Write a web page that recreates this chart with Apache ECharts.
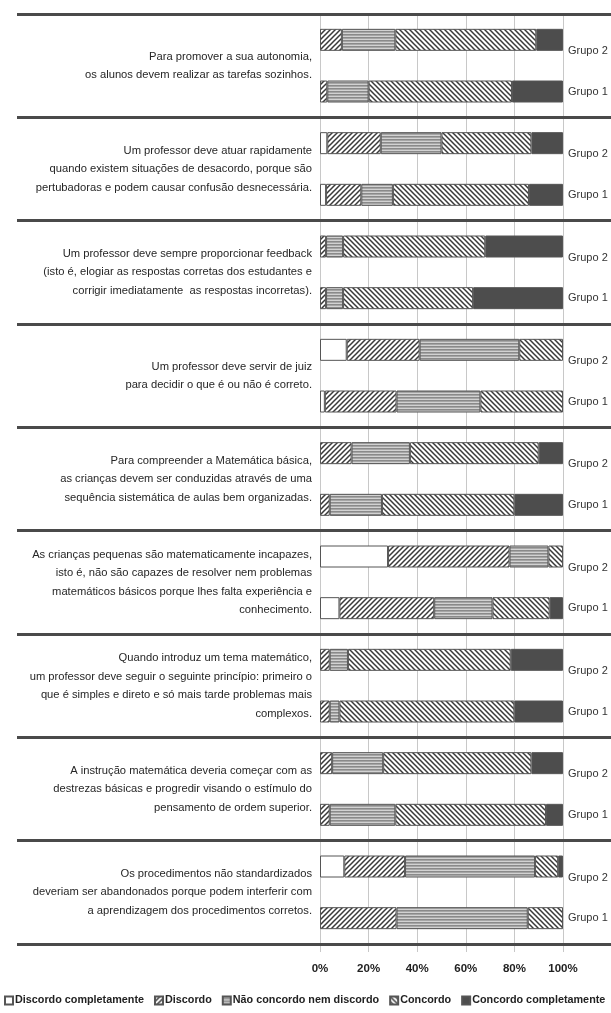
<!DOCTYPE html>
<html>
<head>
<meta charset="utf-8">
<script src="https://cdn.jsdelivr.net/npm/echarts@6/dist/echarts.min.js"></script>
<style>
html,body{margin:0;padding:0;background:#fff;}
#chart{width:611px;height:1013px;}
</style>
</head>
<body>
<div id="chart"></div>
<script>
// ---------- DATA ----------
const statements = [
  "Para promover a sua autonomia,\nos alunos devem realizar as tarefas sozinhos.",
  "Um professor deve atuar rapidamente\nquando existem situações de desacordo, porque são\npertubadoras e podem causar confusão desnecessária.",
  "Um professor deve sempre proporcionar feedback\n(isto é, elogiar as respostas corretas dos estudantes e\ncorrigir imediatamente  as respostas incorretas).",
  "Um professor deve servir de juiz\npara decidir o que é ou não é correto.",
  "Para compreender a Matemática básica,\nas crianças devem ser conduzidas através de uma\nsequência sistemática de aulas bem organizadas.",
  "As crianças pequenas são matematicamente incapazes,\nisto é, não são capazes de resolver nem problemas\nmatemáticos básicos porque lhes falta experiência e\nconhecimento.",
  "Quando introduz um tema matemático,\num professor deve seguir o seguinte princípio: primeiro o\nque é simples e direto e só mais tarde problemas mais\ncomplexos.",
  "A instrução matemática deveria começar com as\ndestrezas básicas e progredir visando o estímulo do\npensamento de ordem superior.",
  "Os procedimentos não standardizados\ndeveriam ser abandonados porque podem interferir com\na aprendizagem dos procedimentos corretos."
];
const groups = ["Grupo 2", "Grupo 1"];
const seriesNames = ["Discordo completamente", "Discordo", "Não concordo nem discordo", "Concordo", "Concordo completamente"];
// values per statement: [Grupo 2, Grupo 1]
const discordoCompletamente = [0,0, 3,2.5, 0,0, 11,2, 0,0, 28,8, 0,0, 0,0, 10,0];
const discordo              = [9,3, 22,14.5, 2.5,2.5, 30,29.5, 13,4, 50,39, 4,4, 5,4, 25,31.5];
const naoConcordo           = [22,17, 25,13, 7,7, 41,34.5, 24,21.5, 16,24, 7.5,4, 21,27, 53.5,54];
const concordo              = [58,59, 37,56, 58.5,53.5, 18,34, 53,54.5, 6,23.5, 67,72, 61,62, 9.5,14.5];
const concordoCompletamente = [11,21, 13,14, 32,37, 0,0, 10,20, 0,5.5, 21.5,20, 13,7, 2,0];

// ---------- PATTERNS ----------
function pattern(kind) {
  const c = document.createElement('canvas');
  const s = kind === 'h' ? 3 : 5;
  c.width = s; c.height = s;
  const g = c.getContext('2d');
  if (kind === 'h') {
    g.fillStyle = '#a6a6a6'; g.fillRect(0, 0, s, s);
    g.fillStyle = '#d2d2d2'; g.fillRect(0, 0, s, 1);
    g.fillStyle = '#8a8a8a'; g.fillRect(0, 1, s, 1);
    return c;
  }
  g.fillStyle = '#ffffff'; g.fillRect(0, 0, s, s);
  g.strokeStyle = '#3a3a3a'; g.lineWidth = 1.5;
  g.beginPath();
  if (kind === 'f') {
    for (let k = -1; k <= 1; k++) { g.moveTo(-1 + k * s, s + 1); g.lineTo(s + 1 + k * s, -1); }
  } else {
    for (let k = -1; k <= 1; k++) { g.moveTo(-1 + k * s, -1); g.lineTo(s + 1 + k * s, s + 1); }
  }
  g.stroke();
  return c;
}
const fills = [
  '#ffffff',
  { image: pattern('f'), repeat: 'repeat' },
  { image: pattern('h'), repeat: 'repeat' },
  { image: pattern('b'), repeat: 'repeat' },
  '#4d4d4d'
];
const allValues = [discordoCompletamente, discordo, naoConcordo, concordo, concordoCompletamente];

const barCats = [];
statements.forEach((s, i) => groups.forEach(g => barCats.push(g + '#' + i)));

const FONT = "'Liberation Sans Narrow', 'Liberation Sans', sans-serif";

const chart = echarts.init(document.getElementById('chart'), null, { renderer: 'canvas' });
chart.setOption({
  animation: false,
  backgroundColor: '#ffffff',
  grid: [
    { left: 320, right: 48, top: 14, bottom: 69, outerBoundsMode: 'none', containLabel: false },
    { left: 17, right: 0, top: 14, bottom: 69, outerBoundsMode: 'none', containLabel: false }
  ],
  legend: {
    data: seriesNames,
    bottom: 7,
    left: 4,
    width: 607,
    padding: 0,
    itemWidth: 8,
    itemHeight: 8,
    itemGap: 10,
    icon: 'rect',
    textStyle: { fontFamily: FONT, fontWeight: 'bold', fontSize: 10.8, color: '#222', padding: [0, 0, 0, -3] }
  },
  xAxis: [
    {
      gridIndex: 0, type: 'value', min: 0, max: 100, interval: 20,
      axisLine: { show: false },
      axisTick: { show: true, length: 8, lineStyle: { color: '#c8c8c8' } },
      splitLine: { show: true, lineStyle: { color: '#c8c8c8', width: 1 } },
      axisLabel: { margin: 19, formatter: '{value}%', fontFamily: FONT, fontWeight: 'bold', fontSize: 11.5, color: '#222' }
    },
    { gridIndex: 1, type: 'value', show: false, min: 0, max: 100 }
  ],
  yAxis: [
    {
      gridIndex: 0, type: 'category', data: barCats, inverse: true, position: 'right',
      axisLine: { show: false }, axisTick: { show: false }, splitLine: { show: false },
      axisLabel: {
        interval: 0, margin: 5, fontFamily: FONT, fontSize: 11, color: '#333',
        formatter: v => { const g = v.split('#')[0]; return g === 'Grupo 2' ? '\n' + g : g; },
        lineHeight: 22
      }
    },
    {
      gridIndex: 0, type: 'category', data: statements, inverse: true, position: 'left',
      axisLine: { show: false }, axisTick: { show: false }, splitLine: { show: false },
      axisLabel: { interval: 0, margin: 8, align: 'right', fontFamily: FONT, fontSize: 11.2, lineHeight: 18.5, color: '#262626' }
    },
    {
      gridIndex: 1, type: 'category', data: statements, inverse: true, z: 5,
      axisLine: { show: false }, axisTick: { show: false }, axisLabel: { show: false },
      splitLine: { show: true, lineStyle: { color: '#4a4a4a', width: 3 } }
    }
  ],
  series: seriesNames.map((name, k) => ({
    name: name,
    type: 'bar',
    stack: 'total',
    xAxisIndex: 0,
    yAxisIndex: 0,
    barWidth: 22,
    itemStyle: { color: fills[k], borderColor: '#555555', borderWidth: 1 },
    data: allValues[k].map(v => (v === 0 ? '-' : v))
  }))
});
</script>
</body>
</html>
